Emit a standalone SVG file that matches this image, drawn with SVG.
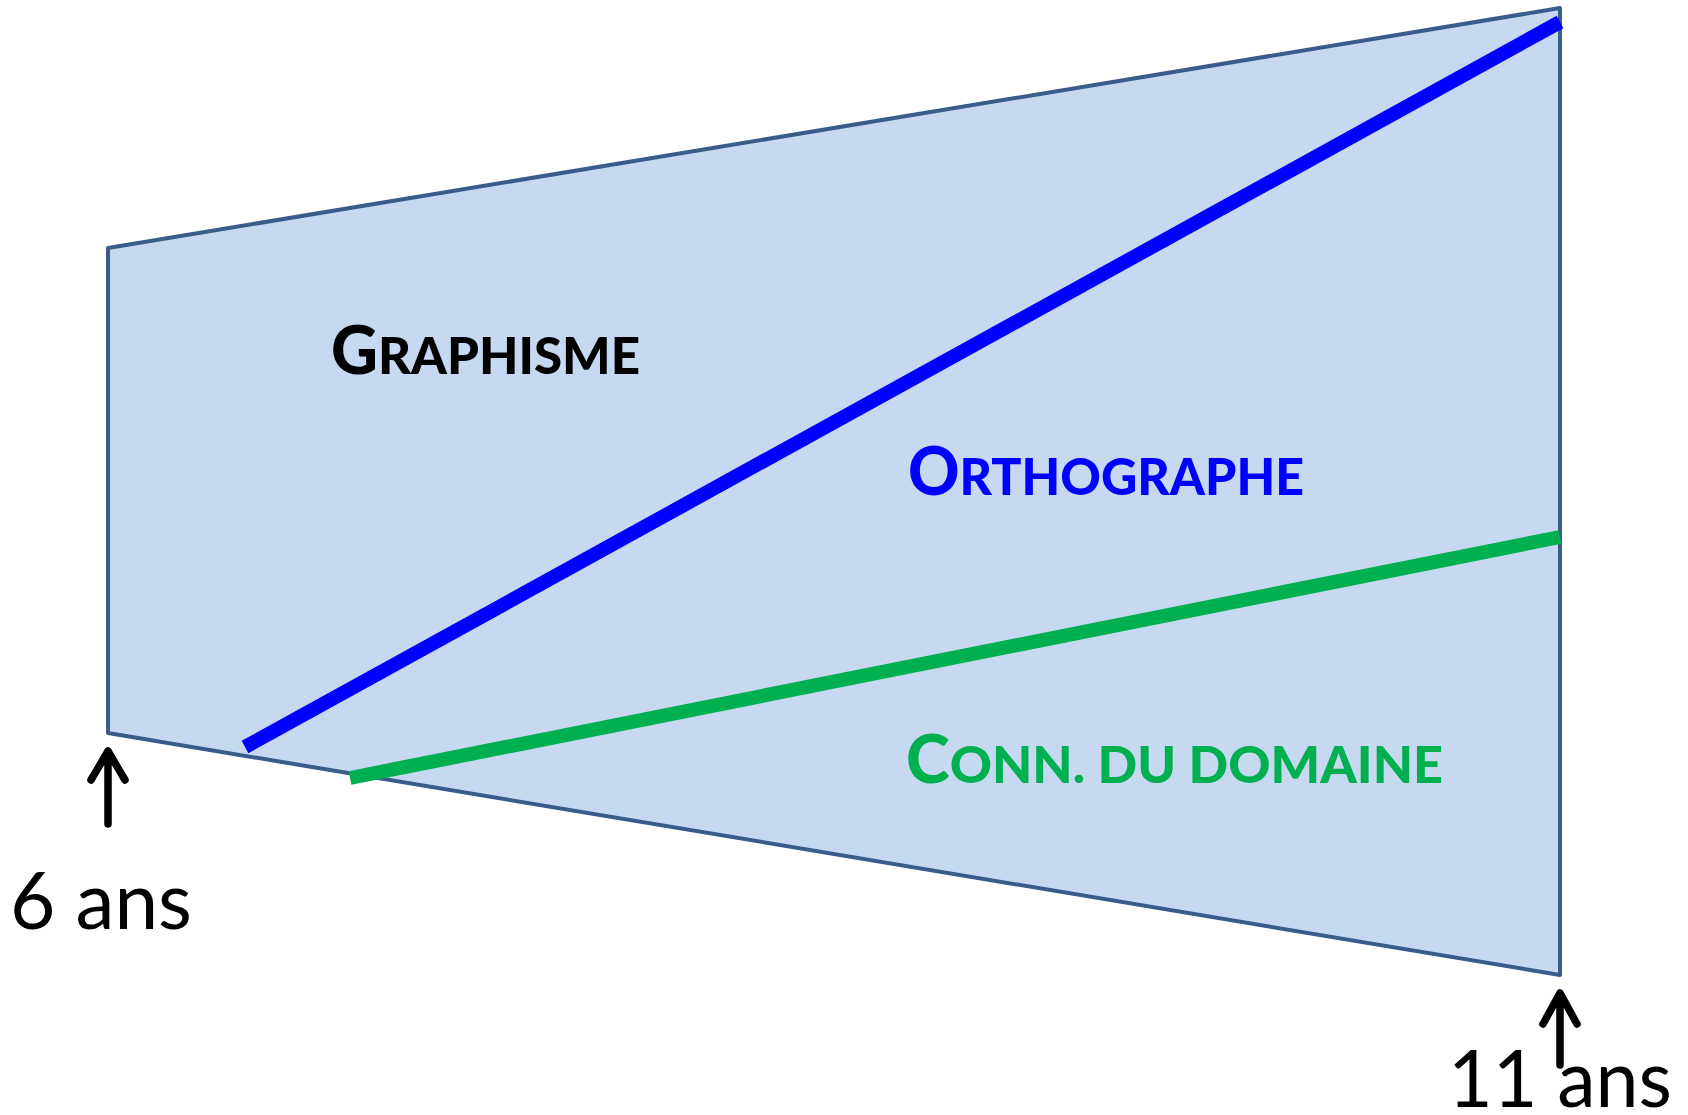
<svg xmlns="http://www.w3.org/2000/svg" width="1688" height="1115" viewBox="0 0 1688 1115">
  <style>
    .area { fill: #C6D9F1; stroke: #385D8A; stroke-width: 4; stroke-linejoin: round; }
    .lbl { font-family: Lato, "Open Sans", "Liberation Sans", sans-serif; font-weight: 900; font-size: 66px; }
    .sc { font-size: 52px; }
    .age { font-family: Lato, "Open Sans", "Liberation Sans", sans-serif; font-size: 80px; fill: #000; }
    .arrow { fill: none; stroke: #000; stroke-width: 7.5; stroke-linecap: round; stroke-linejoin: round; }
  </style>
  <rect width="1688" height="1115" fill="#FFFFFF"/>
  <g id="zone">
    <polygon class="area" points="108,248 1560,8 1560,975 108,733"/>
  </g>
  <g id="connectors">
    <line x1="245" y1="747" x2="1560" y2="22" stroke="#0000FF" stroke-width="14"/>
    <line x1="350" y1="778" x2="1560" y2="537" stroke="#00B050" stroke-width="14"/>
  </g>
  <g id="graphisme">
    <text class="lbl" x="331" y="374" fill="#000000" textLength="309" lengthAdjust="spacingAndGlyphs">G<tspan class="sc">RAPHISME</tspan></text>
  </g>
  <g id="orthographe">
    <text class="lbl" x="908" y="495" fill="#0000FF" textLength="396" lengthAdjust="spacingAndGlyphs">O<tspan class="sc">RTHOGRAPHE</tspan></text>
  </g>
  <g id="connaissance">
    <text class="lbl" x="906" y="783" fill="#00B050" textLength="537" lengthAdjust="spacingAndGlyphs">C<tspan class="sc">ONN. DU DOMAINE</tspan></text>
  </g>
  <g id="age6">
    <path class="arrow" d="M108,824 V752 M91,780 L108,751 L125,780"/>
    <text class="age" x="10" y="929" textLength="182" lengthAdjust="spacingAndGlyphs">6 ans</text>
  </g>
  <g id="age11">
    <path class="arrow" d="M1560,1065 V994 M1543,1024 L1560,993 L1577,1024"/>
    <text class="age" x="1448" y="1107" textLength="224" lengthAdjust="spacingAndGlyphs">11 ans</text>
  </g>
</svg>
